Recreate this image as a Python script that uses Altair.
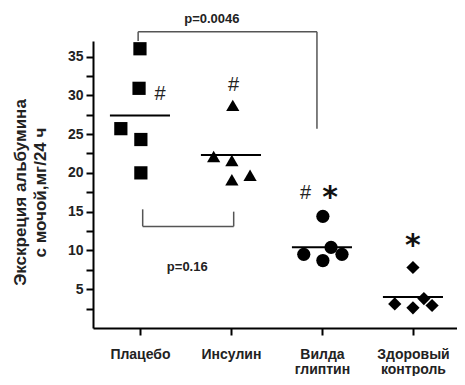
import altair as alt
import pandas as pd

# ---- data ----
groups = ["Плацебо", "Инсулин", "Вилда\nглиптин", "Здоровый\nконтроль"]
shapes = ["square", "triangle-up", "circle", "diamond"]
sizes = [175, 175, 125, 165]

placebo = [36.0, 30.9, 25.7, 24.3, 20.0]
insulin = [28.7, 22.1, 21.6, 19.1, 19.7]
vilda = [14.4, 10.4, 9.5, 8.7, 9.5]
control = [7.8, 3.1, 2.6, 3.8, 2.9]
series = [placebo, insulin, vilda, control]

# horizontal scatter of the points inside each group (in group units)
jitter = [
    [0.0, -0.01, -0.21, 0.01, 0.01],
    [0.02, -0.19, 0.01, 0.01, 0.21],
    [0.01, 0.10, -0.20, 0.01, 0.22],
    [0.0, -0.20, 0.0, 0.12, 0.21],
]
means = [27.4, 22.3, 10.4, 4.0]

# significance marks
marks_text = ["#", "#", "#", "*", "*"]
marks_group = [1, 2, 3, 3, 4]
marks_dx = [0.22, 0.03, -0.18, 0.09, 0.0]
marks_y = [30.2, 31.3, 17.4, 16.7, 10.6]

# brackets (x, x2, y, y2)
br_x = [0.98, 0.98, 2.945, 1.03, 1.03, 2.03]
br_x2 = [0.98, 2.945, 2.945, 1.03, 2.03, 2.03]
br_y = [37.0, 38.2, 38.2, 15.3, 13.1, 15.0]
br_y2 = [38.2, 38.2, 25.7, 13.1, 13.1, 13.1]

p_text = ["p=0.0046", "p=0.16"]
p_x = [1.79, 1.52]
p_y = [39.8, 7.8]

# ---- tables ----
rows = []
for gi, (g, vals) in enumerate(zip(groups, series)):
    for v, dx in zip(vals, jitter[gi]):
        rows.append({"group": g, "x": gi + 1 + dx, "value": v})
pts = pd.DataFrame(rows)

mean_df = pd.DataFrame({
    "x": [i + 1 - 0.33 for i in range(4)],
    "x2": [i + 1 + 0.33 for i in range(4)],
    "value": means,
})
mk_df = pd.DataFrame({
    "x": [g + d for g, d in zip(marks_group, marks_dx)],
    "value": marks_y,
    "t": marks_text,
})
br_df = pd.DataFrame({"x": br_x, "x2": br_x2, "value": br_y, "y2": br_y2})
p_df = pd.DataFrame({"x": p_x, "value": p_y, "t": p_text})

FONT = "Liberation Sans"

label_expr = "".join(
    [f"datum.value == {i+1} ? {str(g.split(chr(10)))} : " for i, g in enumerate(groups)]
) + "''"

xscale = alt.Scale(domain=[0.484, 4.484], nice=False, zero=False)
yscale = alt.Scale(domain=[0, 37], nice=False, zero=True)

xaxis = alt.Axis(
    values=[1, 2, 3, 4],
    labelExpr=label_expr,
    title=None,
    grid=False,
    tickSize=7,
    labelPadding=23,
    labelLineHeight=15,
    labelFontSize=14,
    labelBaseline="alphabetic",
    labelOverlap=False,
)
yaxis = alt.Axis(
    values=[2.5, 5, 7.5, 10, 12.5, 15, 17.5, 20, 22.5, 25, 27.5, 30, 32.5, 35],
    labelExpr="datum.value % 5 == 0 ? datum.label : ''",
    labelOverlap=False,
    title=["Экскреция альбумина", "с мочой,мг/24 ч"],
    titleFontSize=17,
    titleLineHeight=20,
    titleFontWeight="bold",
    titleBaseline="middle",
    titleX=-73,
    titleY=151,
    grid=False,
    tickSize=7,
    labelPadding=3,
    labelFontSize=14,
)


def X(field="x:Q"):
    return alt.X(field, scale=xscale, axis=xaxis)


def Y(field="value:Q"):
    return alt.Y(field, scale=yscale, axis=yaxis)


points = alt.Chart(pts).mark_point(filled=True, opacity=1, color="black").encode(
    x=X(),
    y=Y(),
    shape=alt.Shape("group:N", scale=alt.Scale(domain=groups, range=shapes), legend=None),
    size=alt.Size("group:N", scale=alt.Scale(domain=groups, range=sizes), legend=None),
)

mean_lines = alt.Chart(mean_df).mark_rule(color="black", strokeWidth=2).encode(
    x=X(), x2="x2:Q", y=Y()
)

brackets = alt.Chart(br_df).mark_rule(color="#555555", strokeWidth=1.5).encode(
    x=X(), x2="x2:Q", y=Y(), y2="y2:Q",
)

hashes = alt.Chart(mk_df).transform_filter("datum.t == '#'").mark_text(
    font=FONT, fontSize=20, color="#222222", baseline="middle", align="center"
).encode(x=X(), y=Y(), text="t:N")

stars = alt.Chart(mk_df).transform_filter("datum.t == '*'").mark_text(
    font="DejaVu Sans", fontSize=30, fontWeight="bold", color="#111111",
    baseline="middle", align="center"
).encode(x=X(), y=Y(), text="t:N")

ptexts = alt.Chart(p_df).mark_text(
    font=FONT, fontSize=13, fontWeight="bold", color="#222222", baseline="middle", align="center"
).encode(x=X(), y=Y(), text="t:N")

chart = (
    alt.layer(points, brackets, mean_lines, hashes, stars, ptexts)
    .properties(
        width=364,
        height=287,
        autosize=alt.AutoSizeParams(type="none"),
        padding={"left": 85, "top": 33, "right": 0, "bottom": 48},
        background="white",
    )
    .configure_view(stroke=None)
    .configure_axis(
        domainColor="black",
        domainWidth=2,
        tickColor="black",
        tickWidth=2,
        labelFont=FONT,
        titleFont=FONT,
        labelFontWeight="bold",
        labelColor="#222222",
        titleColor="#222222",
    )
)

chart.save("out.html", embed_options={"renderer": "svg", "actions": False})
